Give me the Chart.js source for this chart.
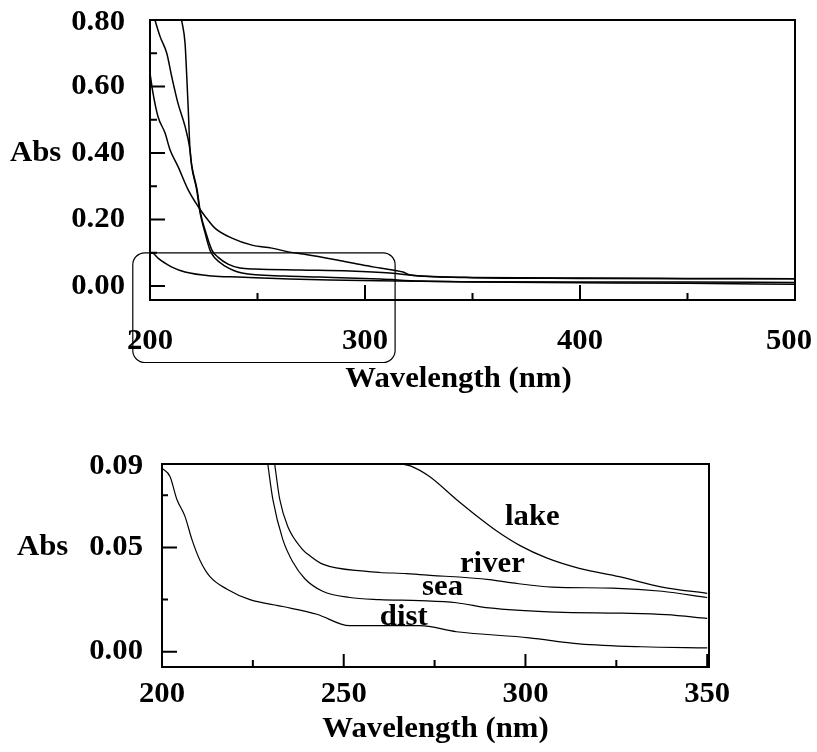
<!DOCTYPE html>
<html>
<head>
<meta charset="utf-8">
<script src="https://cdn.jsdelivr.net/npm/chart.js@4.4.1/dist/chart.umd.min.js"></script>
<style>
  body { margin: 0; background: #fff; width: 817px; height: 752px; position: relative; overflow: hidden; }
  canvas { position: absolute; left: 0; }
  #full { top: 0; }
  #zoom { top: 430px; }
</style>
</head>
<body>
<canvas id="full" width="817" height="420"></canvas>
<canvas id="zoom" width="817" height="322"></canvas>
<script>
/* Full scan 200-500 nm */
var lakeWlFull  = [200, 201.4, 203.7, 207, 209.3, 213, 217.7, 222.3, 225.6, 230.2, 238.1, 247.4, 256.7, 265, 271.2, 287, 299, 307, 317.7, 321, 350, 400, 450, 500];
var lakeAbsFull = [0.64, 0.58, 0.51, 0.46, 0.41, 0.36, 0.29, 0.24, 0.21, 0.174, 0.144, 0.123, 0.114, 0.102, 0.096, 0.078, 0.063, 0.054, 0.042, 0.033, 0.026, 0.024, 0.023, 0.022];
var riverWlFull  = [214.7, 216.3, 217.1, 217.8, 218.6, 219.5, 221.9, 223.5, 226, 228.8, 231.6, 236.3, 241.9, 248.8, 269.8, 293, 311.6, 325.6, 350, 400, 450, 500];
var riverAbsFull = [0.80, 0.73, 0.63, 0.53, 0.41, 0.36, 0.29, 0.22, 0.16, 0.108, 0.087, 0.066, 0.054, 0.051, 0.048, 0.045, 0.039, 0.030, 0.025, 0.023, 0.022, 0.022];
var seaWlFull  = [202.3, 204.7, 207.8, 210.1, 213, 216.3, 218.6, 219.4, 221.7, 223.3, 225.6, 227.9, 230.2, 234.9, 242.8, 262.8, 279, 307, 325.6, 350, 400, 450, 500];
var seaAbsFull = [0.80, 0.75, 0.70, 0.63, 0.55, 0.48, 0.41, 0.36, 0.29, 0.22, 0.16, 0.108, 0.084, 0.060, 0.039, 0.030, 0.027, 0.021, 0.015, 0.013, 0.012, 0.012, 0.011];
var distWlFull  = [200, 201.5, 203.7, 207, 210.2, 216.3, 228.8, 240.9, 265, 283.7, 316, 350, 400, 450, 500];
var distAbsFull = [0.10, 0.098, 0.084, 0.069, 0.057, 0.042, 0.030, 0.027, 0.021, 0.018, 0.015, 0.012, 0.010, 0.008, 0.005];

/* Zoomed scan 200-350 nm */
var lakeWl  = [265.9, 268.5, 273.6, 281, 287.4, 292, 298.4, 305.8, 314.8, 325.8, 337.6, 350];
var lakeAbs = [0.090, 0.089, 0.084, 0.073, 0.064, 0.058, 0.051, 0.045, 0.040, 0.036, 0.031, 0.028];
var riverWl  = [231, 232.4, 234.6, 238.7, 240.7, 244.2, 256.3, 259.9, 267.3, 270.9, 290.1, 296.4, 307.4, 323.9, 337.6, 350];
var riverAbs = [0.090, 0.073, 0.060, 0.049, 0.046, 0.042, 0.0385, 0.038, 0.0375, 0.037, 0.0346, 0.033, 0.031, 0.0305, 0.029, 0.026];
var seaWl  = [229.1, 230.5, 233.2, 236, 239.3, 244.2, 251.6, 259.9, 270.9, 281, 290, 308.5, 326.6, 338.7, 350];
var seaAbs = [0.090, 0.073, 0.054, 0.043, 0.035, 0.029, 0.026, 0.025, 0.0245, 0.0235, 0.021, 0.019, 0.0185, 0.0178, 0.016];
var distWl  = [200, 202.2, 204.1, 206.3, 208.2, 210.4, 213.2, 217.9, 224.2, 233.2, 242.6, 251.6, 270.9, 281, 301, 314.8, 332, 350];
var distAbs = [0.088, 0.084, 0.073, 0.065, 0.054, 0.044, 0.036, 0.030, 0.025, 0.0217, 0.018, 0.0125, 0.0125, 0.0096, 0.0067, 0.0038, 0.0024, 0.0019];

/* ticks */
var fullXLabels = [200, 300, 400, 500];
var fullXMinor  = [250, 350, 450];
var fullYLabels = [0, 0.2, 0.4, 0.6, 0.8];
var fullYMinor  = [0.1, 0.3, 0.5, 0.7];
var zoomXLabels = [200, 250, 300, 350];
var zoomXMinor  = [225, 275, 325];
var zoomYLabels = [0, 0.05, 0.09];
var zoomYMajor  = [0, 0.05];
var zoomYMinor  = [0.025, 0.075];

/* curve names and where they are written in the zoomed plot (nm, Abs) */
var seriesNames = ["lake", "river", "sea", "dist"];
var nameWl  = [301.9, 290.9, 277.2, 266.5];
var nameAbs = [0.061, 0.038, 0.0274, 0.013];

/* the old plotter font is a big bold Times, a little wide */
var textFont = 'bold 29px "Liberation Serif", serif';
var textStretch = 1.06;

function pts(wl, abs) {
  return wl.map(function (w, i) { return { x: w, y: abs[i] }; });
}

function wideText(ctx, str, x, y, align) {
  ctx.save();
  ctx.translate(x, y);
  ctx.scale(textStretch, 1);
  ctx.textAlign = align;
  ctx.fillText(str, 0, 0);
  ctx.restore();
}

/* frame, inward tick marks, labels, axis titles, curve names, highlight box */
var framePlugin = {
  id: "frame",
  afterDraw: function (chart, args, o) {
    var ctx = chart.ctx, a = chart.chartArea, W = chart.width;
    var xs = chart.scales.x, ys = chart.scales.y;
    ctx.save();
    ctx.strokeStyle = "#000";
    ctx.fillStyle = "#000";
    ctx.lineWidth = 2;
    ctx.strokeRect(a.left, a.top, a.right - a.left, a.bottom - a.top);

    ctx.beginPath();
    o.xMajor.forEach(function (v) { var px = xs.getPixelForValue(v); ctx.moveTo(px, a.bottom); ctx.lineTo(px, a.bottom - o.xLong); });
    o.xMinor.forEach(function (v) { var px = xs.getPixelForValue(v); ctx.moveTo(px, a.bottom); ctx.lineTo(px, a.bottom - o.xShort); });
    o.yMajor.forEach(function (v) { var py = ys.getPixelForValue(v); ctx.moveTo(a.left, py); ctx.lineTo(a.left + o.yLong, py); });
    o.yMinor.forEach(function (v) { var py = ys.getPixelForValue(v); ctx.moveTo(a.left, py); ctx.lineTo(a.left + o.yShort, py); });
    ctx.stroke();

    ctx.font = textFont;
    ctx.textBaseline = "middle";

    // tick labels from the scales' own ticks
    ys.ticks.forEach(function (t) {
      var py = Math.max(ys.getPixelForValue(t.value), a.top + 3);
      wideText(ctx, t.value.toFixed(2), a.left - o.yTickPad, py, "right");
    });
    xs.ticks.forEach(function (t) {
      var s = String(t.value);
      var half = ctx.measureText(s).width * textStretch / 2;
      var px = Math.min(xs.getPixelForValue(t.value), W - 5 - half);
      wideText(ctx, s, px, a.bottom + o.xTickGap, "center");
    });

    wideText(ctx, "Abs", o.absX, ys.getPixelForValue(o.absAt), "left");
    wideText(ctx, "Wavelength (nm)", (a.left + a.right) / 2 + o.titleShift, a.bottom + o.titleGap, "center");

    if (o.names) {
      ctx.textBaseline = "alphabetic";
      o.names.forEach(function (n, i) {
        wideText(ctx, n, xs.getPixelForValue(o.nameX[i]), ys.getPixelForValue(o.nameY[i]), "center");
      });
    }

    if (o.box) {
      var x0 = xs.getPixelForValue(o.box[0]), x1 = xs.getPixelForValue(o.box[1]);
      var y0 = ys.getPixelForValue(o.box[2]), y1 = ys.getPixelForValue(o.box[3]);
      ctx.lineWidth = 1.2;
      ctx.beginPath();
      ctx.roundRect(x0, y0, x1 - x0, y1 - y0, 12);
      ctx.stroke();
    }
    ctx.restore();
  }
};

function makeChart(id, c) {
  return new Chart(document.getElementById(id), {
    type: "line",
    data: {
      datasets: c.series.map(function (s, i) {
        return { label: seriesNames[i], data: s, borderColor: "#000", borderWidth: c.lineWidth,
                 pointRadius: 0, fill: false, cubicInterpolationMode: "monotone" };
      })
    },
    options: {
      responsive: false,
      animation: false,
      devicePixelRatio: 1,
      layout: { padding: { top: c.padTop, right: c.padRight, left: 0, bottom: 0 } },
      plugins: { legend: { display: false }, tooltip: { enabled: false }, frame: c.frame },
      scales: {
        x: {
          type: "linear", min: c.xMin, max: c.xMax,
          grid: { display: false }, border: { display: false },
          afterBuildTicks: function (s) { s.ticks = c.xLabels.map(function (v) { return { value: v }; }); },
          afterFit: function (s) { s.height = c.xAxisHeight; s.paddingLeft = 0; s.paddingRight = 0; },
          ticks: { display: false }
        },
        y: {
          type: "linear", min: c.yMin, max: c.yMax,
          grid: { display: false }, border: { display: false },
          afterBuildTicks: function (s) { s.ticks = c.yLabels.map(function (v) { return { value: v }; }); },
          afterFit: function (s) { s.width = c.yAxisWidth; s.paddingTop = 0; s.paddingBottom = 0; },
          ticks: { display: false }
        }
      }
    },
    plugins: [framePlugin]
  });
}

makeChart("full", {
  series: [pts(lakeWlFull, lakeAbsFull), pts(riverWlFull, riverAbsFull), pts(seaWlFull, seaAbsFull), pts(distWlFull, distAbsFull)],
  lineWidth: 1.5,
  xMin: 200, xMax: 500, yMin: -0.042, yMax: 0.80,
  xLabels: fullXLabels, yLabels: fullYLabels,
  padTop: 20, padRight: 22, xAxisHeight: 120, yAxisWidth: 150,
  frame: {
    xMajor: fullXLabels, xMinor: fullXMinor, yMajor: fullYLabels, yMinor: fullYMinor,
    xLong: 15, xShort: 7, yLong: 15, yShort: 7,
    yTickPad: 25, xTickGap: 42,
    absX: 10, absAt: 0.4, titleGap: 80, titleShift: -14,
    box: [192, 314, 0.10, -0.23]
  }
});

makeChart("zoom", {
  series: [pts(lakeWl, lakeAbs), pts(riverWl, riverAbs), pts(seaWl, seaAbs), pts(distWl, distAbs)],
  lineWidth: 1.2,
  xMin: 200, xMax: 350.5, yMin: -0.0073, yMax: 0.09,
  xLabels: zoomXLabels, yLabels: zoomYLabels,
  padTop: 34, padRight: 108, xAxisHeight: 85, yAxisWidth: 162,
  frame: {
    xMajor: zoomXLabels, xMinor: zoomXMinor, yMajor: zoomYMajor, yMinor: zoomYMinor,
    xLong: 13, xShort: 7, yLong: 15, yShort: 6,
    yTickPad: 19, xTickGap: 28,
    absX: 17, absAt: 0.05, titleGap: 63, titleShift: 0,
    names: seriesNames, nameX: nameWl, nameY: nameAbs
  }
});
</script>
</body>
</html>
